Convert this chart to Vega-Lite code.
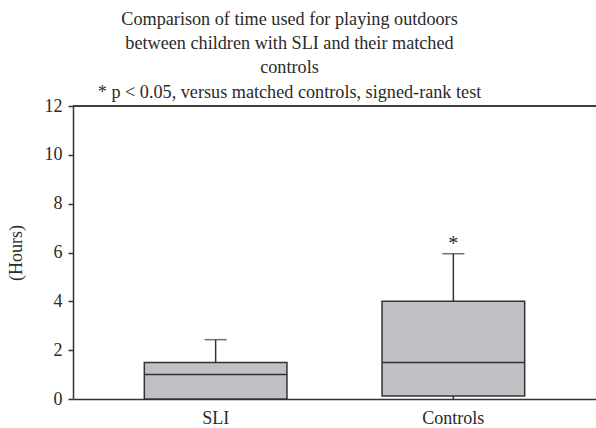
{
  "$schema": "https://vega.github.io/schema/vega-lite/v6.json",
  "autosize": "none",
  "padding": {"left": 73, "top": 106, "right": 0, "bottom": 29},
  "width": 523,
  "height": 293,
  "background": "white",
  "title": {
    "text": ["Comparison of time used for playing outdoors", "between children with SLI and their matched", "controls", "* p < 0.05, versus matched controls, signed-rank test"],
    "font": "Liberation Serif",
    "fontSize": 18.2,
    "fontWeight": "normal",
    "color": "#2a2a2a",
    "lineHeight": 24.3,
    "anchor": "middle",
    "dx": -45,
    "offset": -5
  },
  "data": {
    "values": [
      {"group": "SLI", "min": 0, "q1": 0, "median": 1.0, "q3": 1.5, "max": 2.43, "sig": ""},
      {"group": "Controls", "min": 0, "q1": 0.12, "median": 1.5, "q3": 4.0, "max": 5.95, "sig": "*"}
    ]
  },
  "layer": [
    {
      "mark": {"type": "rule", "color": "#333333", "strokeWidth": 1.5},
      "encoding": {"y": {"datum": 12, "type": "quantitative"}}
    },
    {
      "mark": {"type": "rule", "color": "#333333", "strokeWidth": 1.5},
      "encoding": {
        "x": {
          "field": "group",
          "type": "nominal",
          "sort": ["SLI", "Controls"],
          "scale": {"paddingInner": 0.4, "paddingOuter": 0.3},
          "axis": {
            "title": null,
            "labelAngle": 0,
            "ticks": false,
            "labelFont": "Liberation Serif",
            "labelFontSize": 18,
            "labelColor": "#2a2a2a",
            "labelPadding": 10,
            "domainColor": "#333333",
            "domainWidth": 1.5
          }
        },
        "y": {
          "field": "min",
          "type": "quantitative",
          "scale": {"domain": [0, 12], "nice": false},
          "axis": {
            "title": "(Hours)",
            "values": [0, 2, 4, 6, 8, 10, 12],
            "grid": false,
            "tickSize": 5,
            "tickColor": "#333333",
            "tickWidth": 1.5,
            "domainColor": "#333333",
            "domainWidth": 1.5,
            "labelFont": "Liberation Serif",
            "labelFontSize": 18,
            "labelColor": "#2a2a2a",
            "labelPadding": 6,
            "titleFont": "Liberation Serif",
            "titleFontSize": 18,
            "titleFontWeight": "normal",
            "titleColor": "#2a2a2a",
            "titlePadding": 19
          }
        },
        "y2": {"field": "max"}
      }
    },
    {
      "mark": {"type": "bar", "fill": "#c0c1c4", "stroke": "#333333", "strokeWidth": 1.5},
      "encoding": {
        "x": {"field": "group", "type": "nominal", "sort": ["SLI", "Controls"]},
        "y": {"field": "q1", "type": "quantitative"},
        "y2": {"field": "q3"}
      }
    },
    {
      "mark": {"type": "bar", "fill": "#c0c1c4", "stroke": "#333333", "strokeWidth": 1.5},
      "encoding": {
        "x": {"field": "group", "type": "nominal", "sort": ["SLI", "Controls"]},
        "y": {"field": "median", "type": "quantitative"},
        "y2": {"field": "median"}
      }
    },
    {
      "mark": {"type": "tick", "color": "#333333", "size": 22, "thickness": 1.5, "orient": "horizontal"},
      "encoding": {
        "x": {"field": "group", "type": "nominal", "sort": ["SLI", "Controls"]},
        "y": {"field": "max", "type": "quantitative"}
      }
    },
    {
      "mark": {"type": "text", "font": "Liberation Serif", "fontSize": 20, "color": "#2a2a2a", "baseline": "bottom", "dy": 0},
      "encoding": {
        "x": {"field": "group", "type": "nominal", "sort": ["SLI", "Controls"]},
        "y": {"field": "max", "type": "quantitative"},
        "text": {"field": "sig"}
      }
    }
  ],
  "config": {"view": {"stroke": null}}
}
